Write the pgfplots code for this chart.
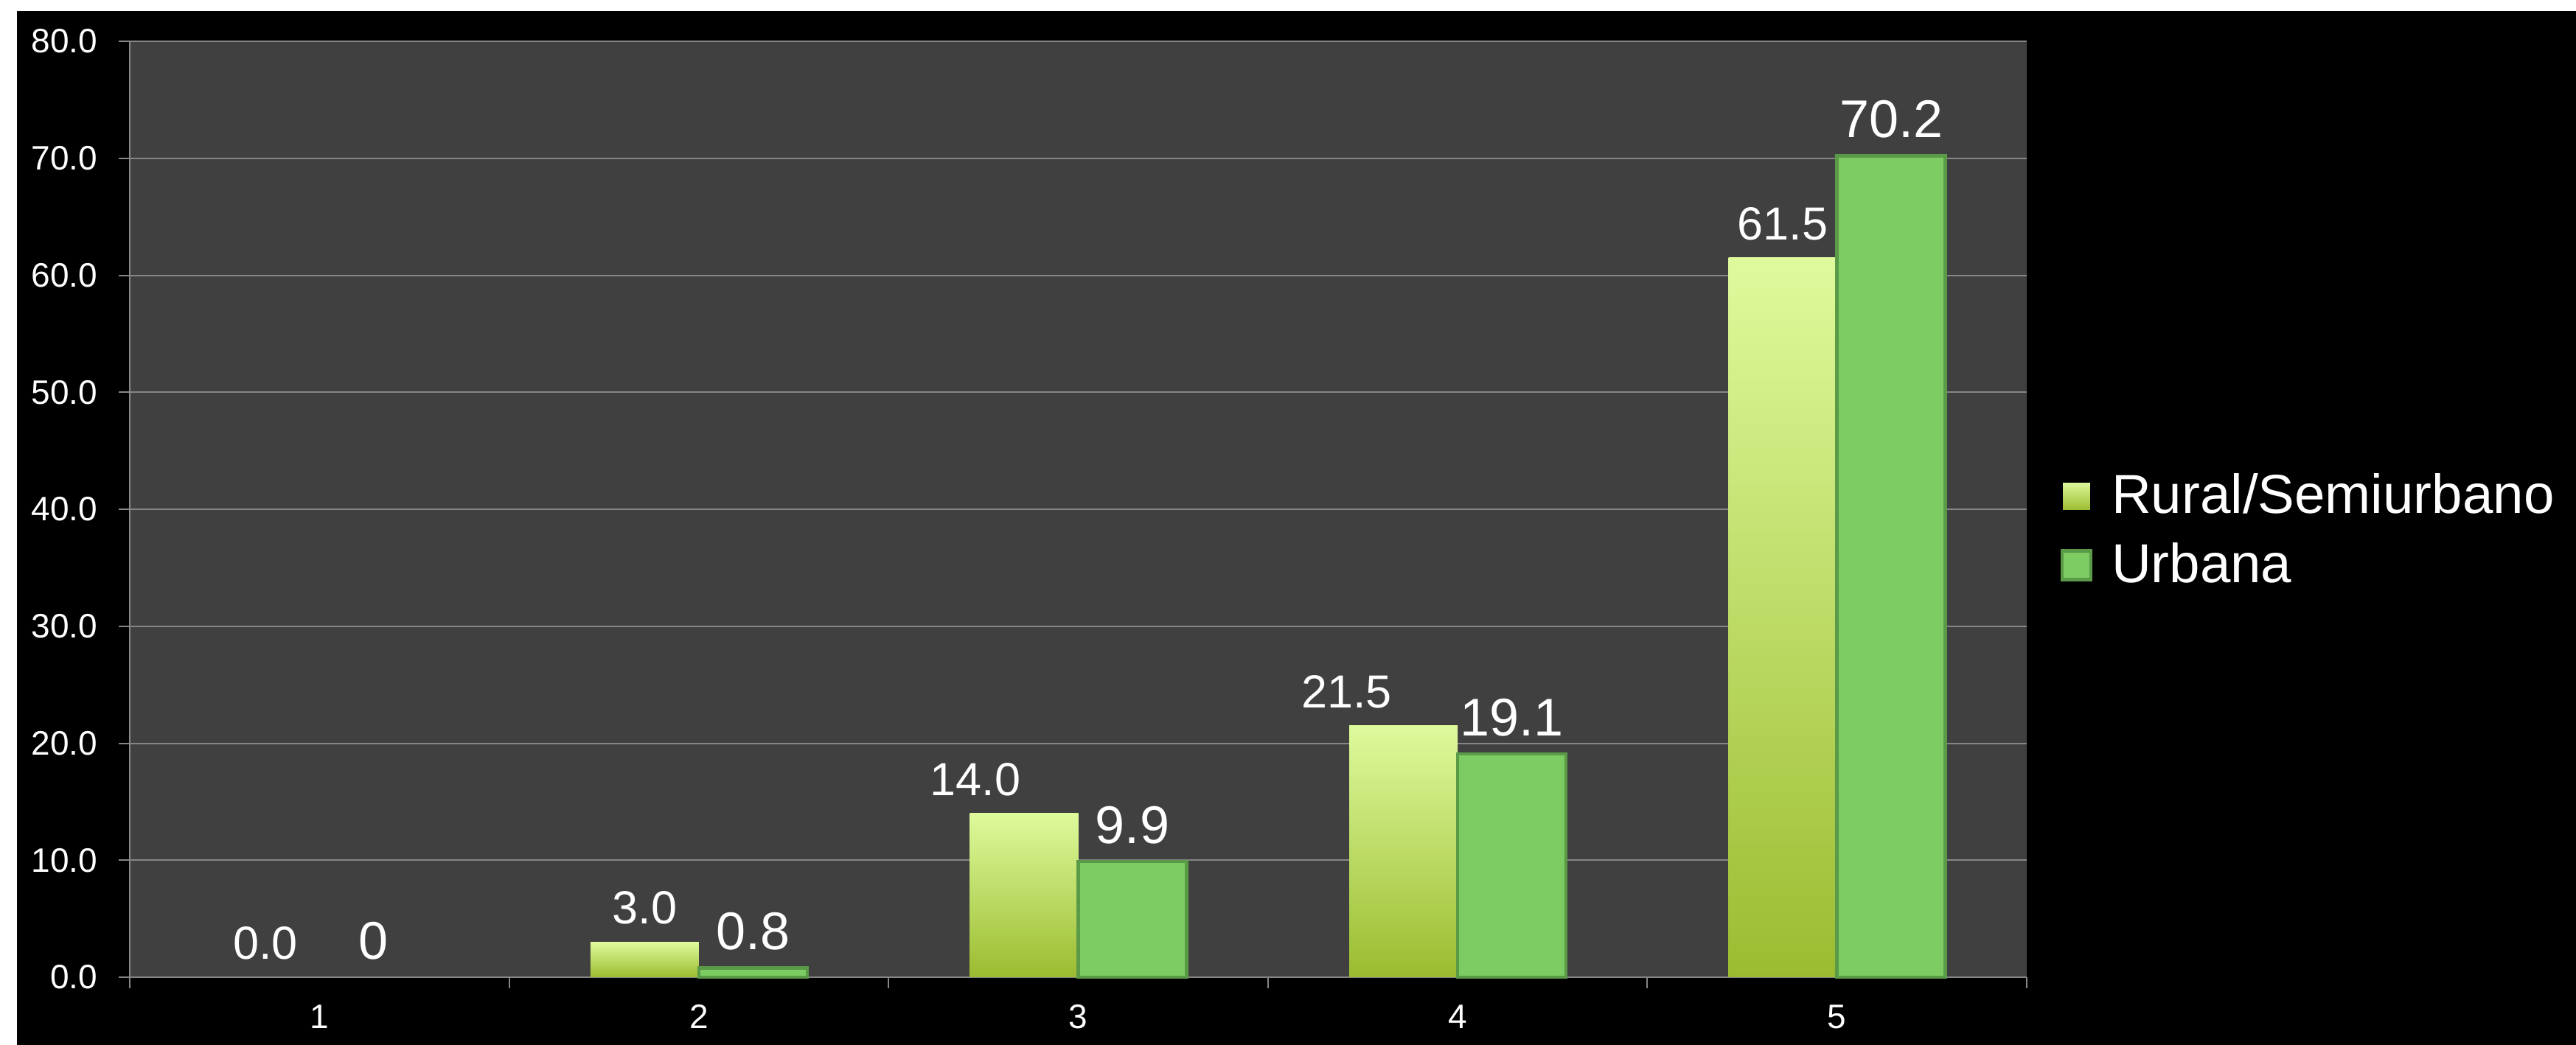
\documentclass[border=0pt]{standalone}
\usepackage{pgfplots}
\pgfplotsset{compat=1.18}
\usepackage{pgfplotstable}
\usepackage{fontspec}
\setmainfont{Liberation Sans}
\definecolor{plotbg}{HTML}{404040}
\definecolor{gridc}{HTML}{868686}
\definecolor{urbfill}{HTML}{7DCB63}
\definecolor{urbdraw}{HTML}{5B9A47}
\definecolor{rurtop}{HTML}{DEFA9C}
\definecolor{rurbot}{HTML}{9BBC30}

\pgfplotstableread{
x y lab
0 0 0.0
1 3.0 3.0
2 14.0 14.0
3 21.5 21.5
4 61.5 61.5
}\rural
\pgfplotstableread{
x y lab
0 0 0
1 0.8 0.8
2 9.9 9.9
3 19.1 19.1
4 70.2 70.2
}\urbana

\begin{document}
\begin{tikzpicture}
\useasboundingbox (0,0) rectangle (698.8pt,283.6pt);
\fill[white] (0,0) rectangle (698.8pt,283.6pt);
\fill[black] (4.6pt,0) rectangle (698.8pt,280.6pt);
\begin{axis}[
  at={(35.2pt,18.4pt)}, anchor=south west,
  scale only axis, width=514.6pt, height=254pt,
  xmin=-0.5, xmax=4.5, ymin=0, ymax=80,
  enlargelimits=false,
  ybar, bar width=29.4pt,
  axis background/.style={fill=plotbg},
  axis x line=bottom, axis y line=left,
  axis line style={-, draw=gridc, line width=0.4pt},
  ytick={0,10,...,80},
  ymajorgrids, grid style={draw=gridc, line width=0.4pt},
  xtick={-0.5,0.5,...,4.5},
  x tick label as interval,
  xticklabels={1,2,3,4,5},
  tick align=outside,
  major tick length=3pt,
  tick style={draw=gridc, line width=0.4pt},
  ticklabel style={font=\fontsize{9.2}{11}\selectfont, text=white},
  xticklabel style={yshift=-1pt},
  /pgf/number format/assume math mode=true,
  yticklabel style={xshift=-2.2pt, /pgf/number format/fixed, /pgf/number format/fixed zerofill, /pgf/number format/precision=1},
  legend style={draw=none, fill=none, text=white, font=\fontsize{14.9}{17.5}\selectfont,
    at={(rel axis cs:1.0115,0.477)}, anchor=west, row sep=2.5pt,
    nodes={inner xsep=5.2pt}},
  legend cell align=left,
  legend image code/.code={\draw[#1] (0pt,-3.9pt) rectangle (7.8pt,3.9pt);},
  clip=false,
  rbar/.style={forget plot, bar shift=-14.7pt, draw=none, top color=rurtop, bottom color=rurbot},
  rlab/.style={forget plot, bar shift=-14.7pt, draw=none, fill=none,
    point meta=explicit symbolic, nodes near coords={\pgfplotspointmeta},
    every node near coord/.append style={anchor=south, inner sep=0pt, yshift=4.6pt, text=white, font=\fontsize{12.6}{15}\selectfont}},
]
% Rural bars, one per category so each carries its own gradient
\addplot[rbar, skip coords between index={0}{1}, skip coords between index={2}{5}] table[x=x, y=y] {\rural};
\addplot[rbar, skip coords between index={0}{2}, skip coords between index={3}{5}] table[x=x, y=y] {\rural};
\addplot[rbar, skip coords between index={0}{3}, skip coords between index={4}{5}] table[x=x, y=y] {\rural};
\addplot[rbar, skip coords between index={0}{4}] table[x=x, y=y] {\rural};
% Rural labels (categories 1, 2, 5 centred; 3 and 4 shifted left)
\addplot[rlab, skip coords between index={2}{4}] table[x=x, y=y, meta=lab] {\rural};
\addplot[rlab, skip coords between index={0}{2}, skip coords between index={3}{5},
  every node near coord/.append style={xshift=-13.2pt}] table[x=x, y=y, meta=lab] {\rural};
\addplot[rlab, skip coords between index={0}{3}, skip coords between index={4}{5},
  every node near coord/.append style={xshift=-15.4pt}] table[x=x, y=y, meta=lab] {\rural};
% Urban bars (the zero bar is not drawn)
\addplot[forget plot, bar shift=14.7pt, draw=urbdraw, fill=urbfill, line width=0.9pt,
  skip coords between index={0}{1}]
  table[x=x, y=y] {\urbana};
% Urban labels
\addplot[forget plot, bar shift=14.7pt, draw=none, fill=none,
  point meta=explicit symbolic,
  nodes near coords={\pgfplotspointmeta},
  every node near coord/.append style={anchor=south, inner sep=0pt, yshift=4.6pt, text=white, font=\fontsize{14.4}{17}\selectfont}]
  table[x=x, y=y, meta=lab] {\urbana};
\addlegendimage{draw=none, top color=rurtop, bottom color=rurbot}
\addlegendentry{Rural/Semiurbano}
\addlegendimage{draw=urbdraw, fill=urbfill, line width=0.9pt}
\addlegendentry{Urbana}
\end{axis}
\end{tikzpicture}
\end{document}
